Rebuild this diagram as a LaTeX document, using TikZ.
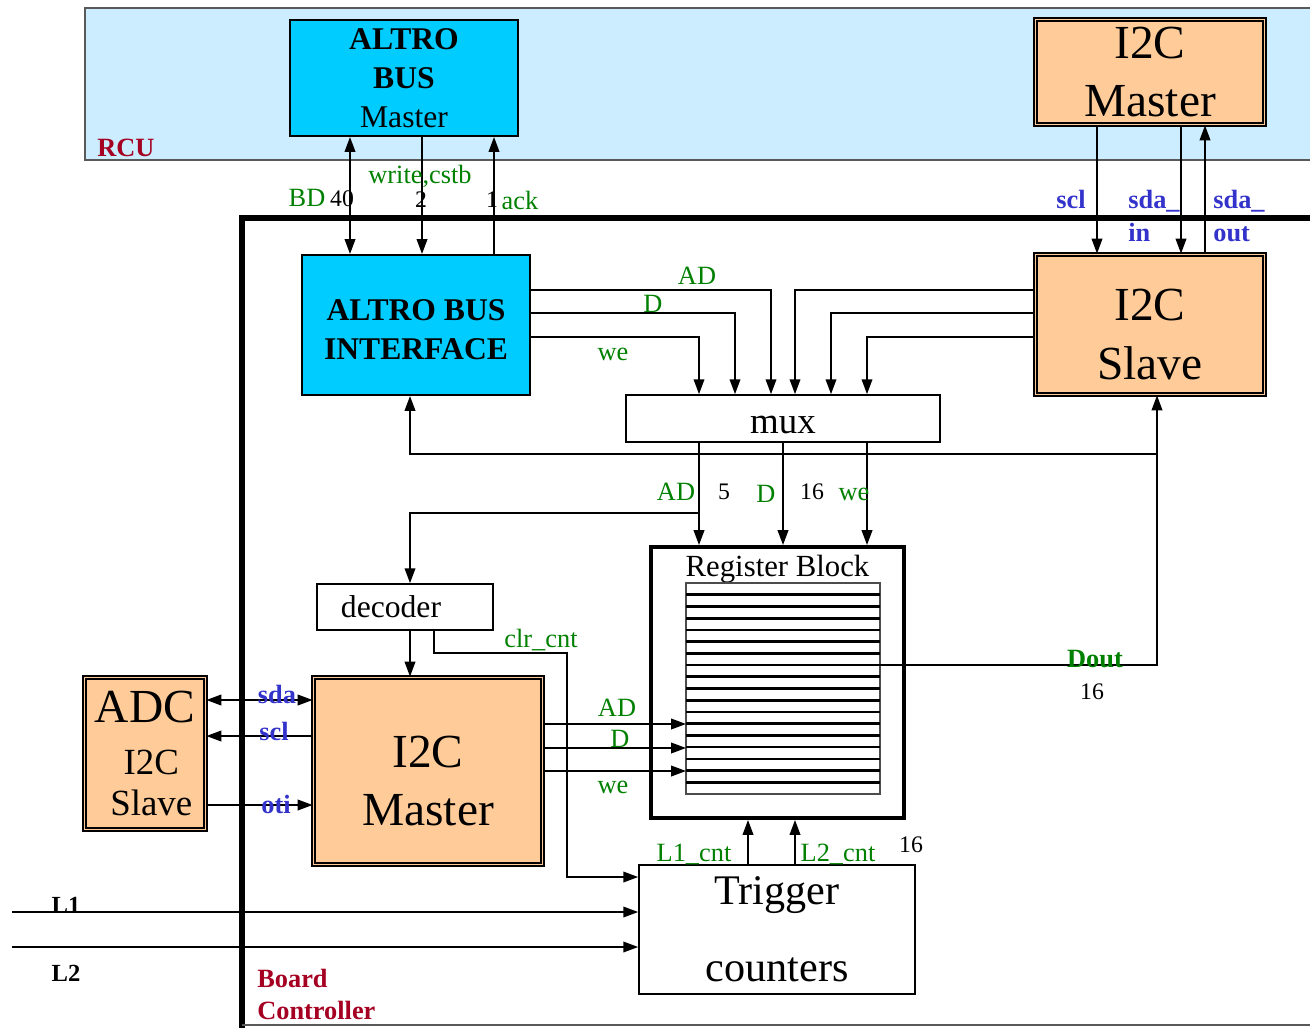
\documentclass[tikz,border=0pt]{standalone}
\usepackage{fontspec}
\setmainfont{Liberation Serif}
\usetikzlibrary{arrows.meta,calc}
\definecolor{rcusky}{RGB}{204,236,255}
\definecolor{altro}{RGB}{0,204,255}
\definecolor{peach}{RGB}{255,204,153}
\definecolor{siggreen}{RGB}{0,128,0}
\definecolor{busblue}{RGB}{51,51,204}
\definecolor{region}{RGB}{165,0,33}

\begin{document}
\begin{tikzpicture}[x=0.02cm, y=-0.02cm,
  altrobox/.style={draw, line width=1.1pt, fill=altro, align=center, inner sep=0pt,
                   font=\bfseries\fontsize{18}{22.2}\selectfont},
  i2cbox/.style={draw, line width=1pt, double=peach, double distance=0.8pt, fill=peach,
                 align=center, inner sep=0pt, font=\fontsize{27}{33.5}\selectfont},
  i2ctext/.style={align=center, inner sep=0pt, font=\fontsize{27}{33.5}\selectfont},
  whitebox/.style={draw, line width=0.9pt, fill=white, inner sep=0pt, align=center},
  arrow/.style={-{Triangle[length=8.5pt,width=6pt]}, line width=1.1pt},
  biarrow/.style={{Triangle[length=8.5pt,width=6pt]}-{Triangle[length=8.5pt,width=6pt]}, line width=1.1pt},
  sig/.style={text=siggreen, font=\fontsize{15}{18}\selectfont, inner sep=0pt, anchor=base},
  num/.style={font=\fontsize{13.5}{16}\selectfont, inner sep=0pt, anchor=base},
  wirename/.style={text=busblue, font=\bfseries\fontsize{15}{18.8}\selectfont, inner sep=0pt, anchor=base},
  zone/.style={text=region, font=\bfseries\fontsize{15}{18.2}\selectfont, inner sep=0pt, align=left},
  trigin/.style={font=\bfseries\fontsize{14}{17}\selectfont, inner sep=0pt, anchor=base}]
  \useasboundingbox (0,0) rectangle (1310,1027);

  % RCU and board controller areas
  \filldraw[fill=rcusky, draw=black!65, line width=0.8pt] (85,8) rectangle (1340,160);
  \node[zone, anchor=base west] (rcu) at (97,156) {RCU};
  \draw[line width=3pt] (1340,218) -- (242,218) -- (242,1040);
  \draw[line width=0.8pt, black!65] (242,1025) -- (1340,1025);
  \node[zone, anchor=north west] (bc) at (257,969) {Board\\Controller};

  % blocks
  \node[altrobox, minimum width=4.56cm, minimum height=2.32cm] (abm) at (404,78)
       {ALTRO\\BUS\\\mdseries Master};
  \node[i2cbox, minimum width=4.58cm, minimum height=2.1cm] (i2cm) at (1150,72) {I2C\\Master};
  \node[altrobox, minimum width=4.56cm, minimum height=2.8cm] (ifc) at (416,325) {};
  \node[align=center, inner sep=0pt, font=\bfseries\fontsize{18}{22.2}\selectfont] (ifctxt)
       at ([yshift=-0.1cm]ifc.center) {ALTRO BUS\\INTERFACE};
  \node[i2cbox, minimum width=4.58cm, minimum height=2.8cm] (i2cs) at (1150,324.5) {};
  \node[i2ctext, font=\fontsize{27}{34}\selectfont] (i2cstxt)
       at ([yshift=-0.2cm]i2cs.center) {I2C\\Slave};
  \node[whitebox, minimum width=6.28cm, minimum height=0.94cm, font=\fontsize{21}{25}\selectfont,
        text height=0.62cm] (mux) at (783,418.5) {mux};
  \node[whitebox, minimum width=3.52cm, minimum height=0.92cm, font=\fontsize{18}{22}\selectfont]
       (dec) at (405,607) {decoder\hspace*{0.56cm}};
  \node[draw, line width=2.2pt, minimum width=5.06cm, minimum height=5.42cm, inner sep=0pt]
       (reg) at (777.5,682.5) {};
  \node[anchor=north, inner sep=0pt, font=\fontsize{17.5}{21}\selectfont] (regttl)
       at ([yshift=-0.2cm]reg.north) {Register Block};
  \node[draw=black!70, line width=0.7pt, outer sep=0pt, minimum width=3.88cm,
        minimum height=4.22cm, inner sep=0pt] (regs) at (783,688.5) {};
  \foreach \k in {1,...,17}
    \draw[line width=1.5pt] ($(regs.north west)!\k/18!(regs.south west)$)
                         -- ($(regs.north east)!\k/18!(regs.south east)$);
  \node[i2cbox, minimum width=4.58cm, minimum height=3.74cm] (i2cb) at (428,771) {};
  \node[i2ctext] (i2cbtxt) at ([yshift=-0.2cm]i2cb.center) {I2C\\Master};
  \node[i2cbox, minimum width=2.42cm, minimum height=3.04cm, font=\fontsize{21}{23.5}\selectfont]
       (adc) at (145,753.5) {{\fontsize{27}{30}\selectfont ADC}\\[6pt]\hspace*{0.25cm}I2C\\\hspace*{0.25cm}Slave};
  \node[whitebox, minimum width=5.52cm, minimum height=2.58cm, font=\fontsize{24}{43.8}\selectfont]
       (trg) at (777,929.5) {Trigger\\counters};

  % lanes
  \coordinate (xbd) at (350,0);   \coordinate (xwc) at (422,0);   \coordinate (xack) at (494,0);
  \coordinate (xscl) at (1097,0); \coordinate (xsdi) at (1181,0); \coordinate (xsdo) at (1205,0);
  \coordinate (xwe) at (699,0);   \coordinate (xd) at (735,0);    \coordinate (xad) at (771,0);
  \coordinate (xsad) at (795,0);  \coordinate (xsd) at (831,0);   \coordinate (xswe) at (867,0);
  \coordinate (xmd) at (783,0);   \coordinate (xfb) at (410,0);   \coordinate (xret) at (1157,0);
  \coordinate (xclr) at (434,0);  \coordinate (xclrr) at (567,0);
  \coordinate (xl1) at (748,0);   \coordinate (xl2) at (795,0);
  \coordinate (yad) at (0,290);   \coordinate (yd) at (0,313);    \coordinate (ywe) at (0,337);
  \coordinate (yfb) at (0,454);   \coordinate (ydec) at (0,513);  \coordinate (yclr) at (0,653);
  \coordinate (ydout) at (0,665); \coordinate (yclrin) at (0,877);
  \coordinate (yad3) at (0,724);  \coordinate (yd3) at (0,748);   \coordinate (ywe3) at (0,771);
  \coordinate (ysda) at (0,700);  \coordinate (yscl) at (0,736);  \coordinate (yoti) at (0,805);
  \coordinate (l1in) at (12,912); \coordinate (l2in) at (12,947);

  % RCU links
  \draw[biarrow] (abm.south -| xbd) -- (ifc.north -| xbd);
  \draw[arrow] (abm.south -| xwc) -- (ifc.north -| xwc);
  \draw[arrow] (ifc.north -| xack) -- (abm.south -| xack);
  \draw[arrow] (i2cm.south -| xscl) -- (i2cs.north -| xscl);
  \draw[arrow] (i2cm.south -| xsdi) -- (i2cs.north -| xsdi);
  \draw[arrow] (i2cs.north -| xsdo) -- (i2cm.south -| xsdo);

  % into the mux
  \draw[arrow] (ifc.east |- yad) -| (mux.north -| xad);
  \draw[arrow] (ifc.east |- yd) -| (mux.north -| xd);
  \draw[arrow] (ifc.east |- ywe) -| (mux.north -| xwe);
  \draw[arrow] (i2cs.west |- yad) -| (mux.north -| xsad);
  \draw[arrow] (i2cs.west |- yd) -| (mux.north -| xsd);
  \draw[arrow] (i2cs.west |- ywe) -| (mux.north -| xswe);

  % mux to registers
  \draw[arrow] (mux.south -| xwe) -- (reg.north -| xwe);
  \draw[arrow] (mux.south -| xmd) -- (reg.north -| xmd);
  \draw[arrow] (mux.south -| xswe) -- (reg.north -| xswe);
  \draw[arrow] (xwe |- ydec) -| (dec.north -| xfb);
  \draw[arrow] (dec.south -| xfb) -- (i2cb.north -| xfb);
  \draw[arrow] (dec.south -| xclr) |- (xclrr |- yclr) |- (trg.west |- yclrin);

  % read back
  \draw[arrow] (regs.east |- ydout) -| (i2cs.south -| xret);
  \draw[arrow] (xret |- yfb) -| (ifc.south -| xfb);

  % local I2C master
  \draw[arrow] (i2cb.east |- yad3) -- (regs.west |- yad3);
  \draw[arrow] (i2cb.east |- yd3) -- (regs.west |- yd3);
  \draw[arrow] (i2cb.east |- ywe3) -- (regs.west |- ywe3);
  \draw[biarrow] (adc.east |- ysda) -- (i2cb.west |- ysda);
  \draw[arrow] (i2cb.west |- yscl) -- (adc.east |- yscl);
  \draw[arrow] (adc.east |- yoti) -- (i2cb.west |- yoti);

  % triggers
  \draw[arrow] (trg.north -| xl1) -- (reg.south -| xl1);
  \draw[arrow] (trg.north -| xl2) -- (reg.south -| xl2);
  \draw[arrow] (l1in) -- (trg.west |- l1in);
  \draw[arrow] (l2in) -- (trg.west |- l2in);

  % labels
  \node[sig] (lbd) at (307,206) {BD};
  \node[num] (n40) at (342,206) {40};
  \node[sig] (lwc) at (420,184) {write,cstb};
  \node[num] (n2) at (421,207) {2};
  \node[num] (n1) at (492,207) {1};
  \node[sig] (lack) at (520,209) {ack};
  \node[wirename] (lscl) at (1071,208) {scl};
  \node[wirename, anchor=north west, align=left] (lsdi) at (1128,190) {sda\_\\in};
  \node[wirename, anchor=north west, align=left] (lsdo) at (1213,190) {sda\_\\out};
  \node[sig] (lad1) at (697,284) {AD};
  \node[sig] (ld1) at (653,312) {D};
  \node[sig] (lwe1) at (613,360) {we};
  \node[sig] (lad2) at (676,500) {AD};
  \node[num] (n5) at (724,499) {5};
  \node[sig] (ld2) at (766,502) {D};
  \node[num] (n16a) at (812,499) {16};
  \node[sig] (lwe2) at (854,500) {we};
  \node[sig] (lclr) at (541,647) {clr\_cnt};
  \node[sig, font=\bfseries\fontsize{15}{18}\selectfont] (ldout) at (1095,667) {Dout};
  \node[num] (n16b) at (1092,699) {16};
  \node[sig] (lad3) at (617,716) {AD};
  \node[sig] (ld3) at (620,747) {D};
  \node[sig] (lwe3) at (613,793) {we};
  \node[wirename] (lsda) at (277,703) {sda};
  \node[wirename] (lscl2) at (274,740) {scl};
  \node[wirename] (loti) at (276,813) {oti};
  \node[sig] (ll1c) at (694,861) {L1\_cnt};
  \node[sig] (ll2c) at (838,861) {L2\_cnt};
  \node[num] (n16c) at (911,852) {16};
  \node[trigin] (ll1) at (66,913) {L1};
  \node[trigin] (ll2) at (66,981) {L2};
\end{tikzpicture}
\end{document}
